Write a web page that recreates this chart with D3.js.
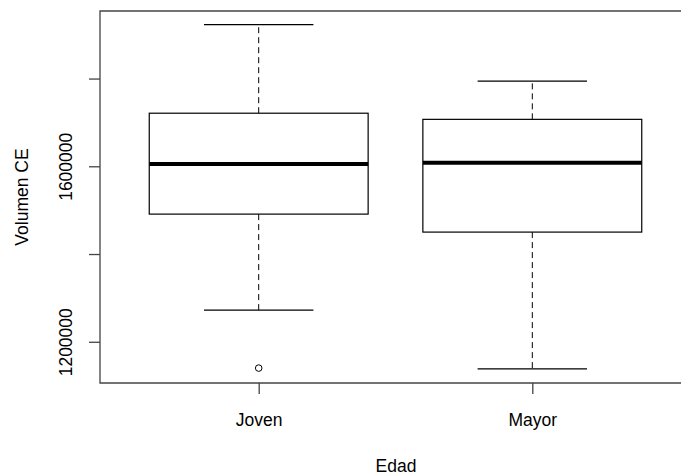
<!DOCTYPE html>
<html>
<head>
<meta charset="utf-8">
<script src="https://cdn.jsdelivr.net/npm/d3@7"></script>
<style>
  html, body { margin: 0; padding: 0; background: #fff; overflow: hidden; }
  svg { display: block; }
  text { font-family: "Liberation Sans", Arial, sans-serif; fill: #000; }
</style>
</head>
<body>
<div id="chart"></div>
<script>
// boxplot stats
let categories = ["Joven", "Mayor"];
let whiskerHigh = [1923000, 1794000];
let q3 = [1721000, 1707000];
let medians = [1605000, 1608000];
let q1 = [1491000, 1450000];
let whiskerLow = [1272000, 1138000];
let outliers = [[1140000], []];
let yTicks = [1200000, 1400000, 1600000, 1800000];
let yTickLabels = ["1200000", "", "1600000", ""];

(function(){
    let width = 681, height = 475;
    let left = 100, top = 11, bottom = 383, right = 691;
    let fontSize = 17.5;
    let tick = 11;

    let svg = d3.select("#chart").append("svg")
        .attr("width", width)
        .attr("height", height);
    svg.append("rect").attr("width", width).attr("height", height).attr("fill", "#fff");

    let x = d3.scaleLinear().domain([0.42, categories.length + 0.58]).range([left, right]);
    let y = d3.scaleLinear().domain([1106000, 1954000]).range([bottom, top]);
    let pos = function(i){ return x(i + 1); };
    let boxHalf = (x(1.4) - x(1));
    let capHalf = boxHalf / 2;

    let g = svg.append("g");
    categories.forEach(function(cat, i){
        let cx = pos(i);
        // whiskers (dashed)
        g.append("line")
            .attr("x1", cx).attr("x2", cx)
            .attr("y1", y(q3[i])).attr("y2", y(whiskerHigh[i]))
            .attr("stroke", "#000").attr("stroke-width", 1)
            .attr("stroke-dasharray", "6,4");
        g.append("line")
            .attr("x1", cx).attr("x2", cx)
            .attr("y1", y(q1[i])).attr("y2", y(whiskerLow[i]))
            .attr("stroke", "#000").attr("stroke-width", 1)
            .attr("stroke-dasharray", "6,4");
        // caps
        [whiskerHigh[i], whiskerLow[i]].forEach(function(v){
            g.append("line")
                .attr("x1", cx - capHalf).attr("x2", cx + capHalf)
                .attr("y1", y(v)).attr("y2", y(v))
                .attr("stroke", "#000").attr("stroke-width", 1.2);
        });
        // box
        g.append("rect")
            .attr("x", cx - boxHalf)
            .attr("y", y(q3[i]))
            .attr("width", 2 * boxHalf)
            .attr("height", y(q1[i]) - y(q3[i]))
            .attr("fill", "#fff")
            .attr("stroke", "#000").attr("stroke-width", 1.2);
        // median
        g.append("line")
            .attr("x1", cx - boxHalf).attr("x2", cx + boxHalf)
            .attr("y1", y(medians[i])).attr("y2", y(medians[i]))
            .attr("stroke", "#000").attr("stroke-width", 4);
        // outliers
        outliers[i].forEach(function(v){
            g.append("circle")
                .attr("cx", cx).attr("cy", y(v)).attr("r", 3.3)
                .attr("fill", "none").attr("stroke", "#000").attr("stroke-width", 1);
        });
    });

    // frame (right side falls outside the picture)
    svg.append("path")
        .attr("d", "M" + right + "," + top + "H" + left + "V" + bottom + "H" + right)
        .attr("fill", "none")
        .attr("stroke", "#444").attr("stroke-width", 1.3);

    // y axis
    let yAxis = svg.append("g")
        .attr("transform", "translate(" + left + ",0)")
        .call(d3.axisLeft(y)
            .tickValues(yTicks)
            .tickSize(tick)
            .tickFormat(function(d, i){ return yTickLabels[i]; }));
    yAxis.select(".domain").remove();
    yAxis.selectAll(".tick line").attr("stroke", "#444").attr("stroke-width", 1.3);
    yAxis.selectAll(".tick text")
        .attr("transform", "rotate(-90)")
        .attr("x", 0).attr("y", -28).attr("dy", null)
        .attr("text-anchor", "middle")
        .style("font-size", fontSize + "px")
        .style("font-family", "Liberation Sans, Arial, sans-serif")
        .attr("fill", "#000");

    // x axis
    let xAxis = svg.append("g")
        .attr("transform", "translate(0," + bottom + ")")
        .call(d3.axisBottom(x)
            .tickValues(categories.map(function(c, i){ return i + 1; }))
            .tickSize(tick)
            .tickFormat(function(d){ return categories[d - 1]; }));
    xAxis.select(".domain").remove();
    xAxis.selectAll(".tick line").attr("stroke", "#444").attr("stroke-width", 1.3);
    xAxis.selectAll(".tick text")
        .attr("y", 43).attr("dy", null)
        .style("font-size", fontSize + "px")
        .style("font-family", "Liberation Sans, Arial, sans-serif")
        .attr("fill", "#000");

    // axis titles
    svg.append("text")
        .attr("x", (left + 668) / 2 + 12).attr("y", 472)
        .attr("text-anchor", "middle")
        .style("font-size", fontSize + "px")
        .text("Edad");
    svg.append("text")
        .attr("transform", "translate(28," + ((top + bottom) / 2) + ") rotate(-90)")
        .attr("text-anchor", "middle")
        .style("font-size", fontSize + "px")
        .text("Volumen CE");
})();
</script>
</body>
</html>
